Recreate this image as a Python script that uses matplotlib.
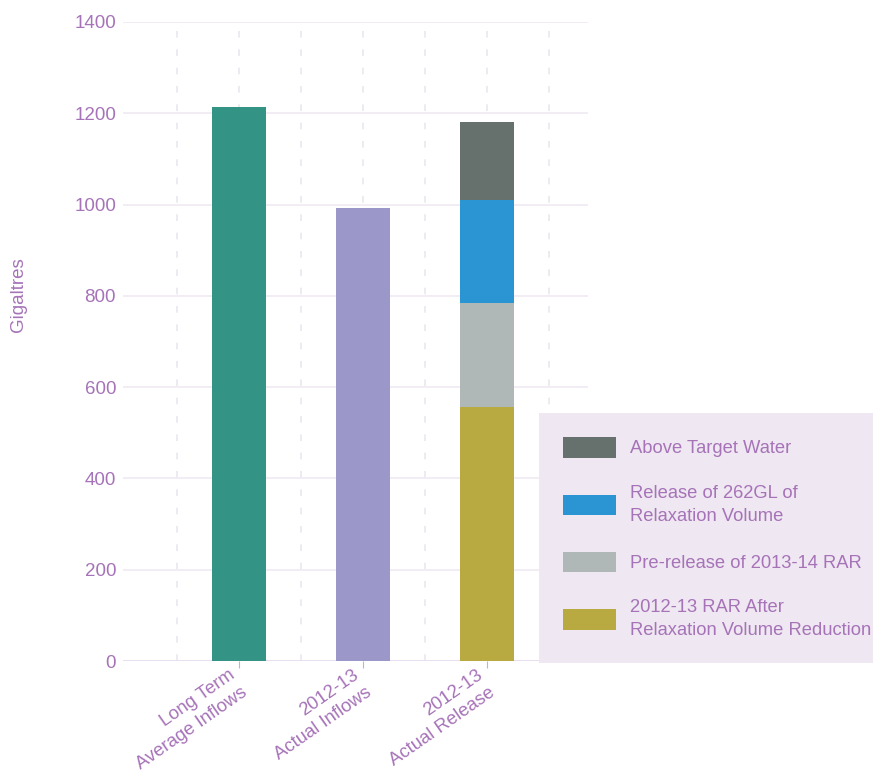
import numpy as np
import matplotlib
matplotlib.use('Agg')
from matplotlib import pyplot as plt
from matplotlib.transforms import ScaledTranslation

# data
categories = ['Long Term\nAverage Inflows', '2012-13\nActual Inflows', '2012-13\nActual Release']
single_values = [1213, 993]
single_colors = ['#339485', '#9b97c9']

stack_labels = ['2012-13 RAR After\nRelaxation Volume Reduction',
                'Pre-release of 2013-14 RAR',
                'Release of 262GL of\nRelaxation Volume',
                'Above Target Water']
stack_values = [556, 228, 225, 173]
stack_colors = ['#b8a940', '#afb7b7', '#2b95d3', '#66706c']

yticks = [0, 200, 400, 600, 800, 1000, 1200, 1400]

txt = '#a673b8'
plt.rcParams['font.family'] = ['Liberation Sans', 'DejaVu Sans']

fig = plt.figure(figsize=(8.73, 7.74), dpi=100)
ax = fig.add_axes([123 / 873, 1 - 661 / 774, 465 / 873, 639 / 774])

x = np.arange(len(categories))
w = 0.43
for i, v in enumerate(single_values):
    ax.bar(x[i], v, w, color=single_colors[i], edgecolor='none', zorder=3)

handles = []
bottom = 0
for lab, v, c in zip(stack_labels, stack_values, stack_colors):
    b = ax.bar(x[2], v, w, bottom=bottom, color=c, edgecolor='none', label=lab, zorder=3)
    handles.append(b)
    bottom += v

ax.set_xlim(-0.935, 2.815)
ax.set_ylim(0, 1400)
ax.set_yticks(yticks)
ax.set_xticks(x)
ax.set_xticklabels(categories, rotation=35, ha='right', va='top', rotation_mode='anchor',
                   multialignment='right', color=txt, fontsize=13.3, linespacing=1.4)
ax.tick_params(axis='x', length=5, color='#c0b0d8', pad=3)
ax.tick_params(axis='y', length=0, labelsize=13.5, labelcolor=txt, pad=5)
# nudge the rotated labels a little left and up
shift = ScaledTranslation(-0.11, 0.06, fig.dpi_scale_trans)
for lbl in ax.get_xticklabels():
    lbl.set_transform(lbl.get_transform() + shift)

for s in ax.spines.values():
    s.set_visible(False)
ax.axhline(0, color='#e6dcef', lw=1.2, zorder=2)
ax.grid(axis='y', color='#f0eaf4', lw=1.2, zorder=0)
for gx in np.arange(-0.5, 2.6, 0.5):
    ax.axvline(gx, color='#ebe6f0', lw=1.2, ls=(0, (4, 7)), zorder=1)

ax.set_ylabel('Gigaltres', color=txt, fontsize=13.5)
ax.yaxis.set_label_coords(-0.206, 0.574)

leg = fig.legend(handles[::-1], stack_labels[::-1], loc='upper left',
                 bbox_to_anchor=(539 / 873, 1 - 413 / 774), fontsize=13.2,
                 frameon=True, fancybox=False, borderaxespad=0,
                 handlelength=2.89, handleheight=1.36, handletextpad=0.75,
                 labelspacing=1.48, borderpad=1.3)
leg.get_frame().set_facecolor('#efe7f1')
leg.get_frame().set_edgecolor('none')
leg.get_frame().set_alpha(1)
for t in leg.get_texts():
    t.set_color(txt)
    t.set_linespacing(1.45)

fig.savefig('out.png', dpi=100)
